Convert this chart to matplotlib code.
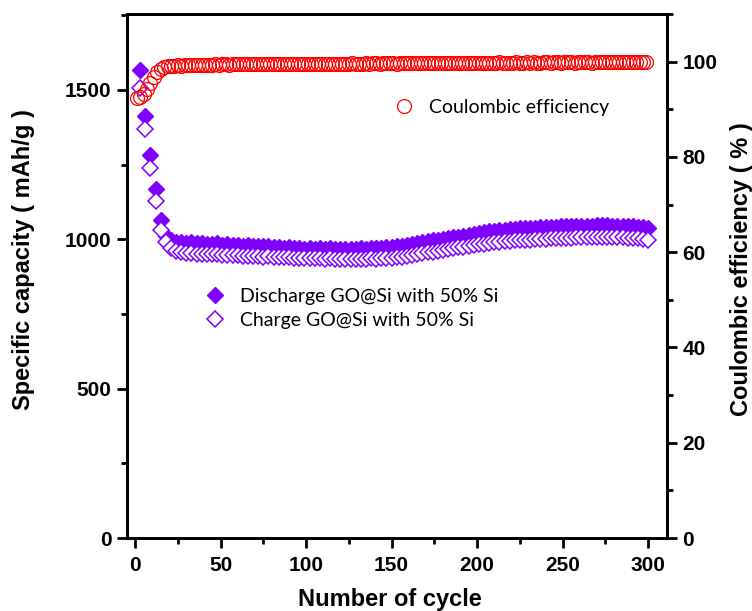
import matplotlib
matplotlib.use("Agg")
import matplotlib.pyplot as plt
from matplotlib.ticker import MultipleLocator
from matplotlib.font_manager import FontProperties

# ---------------- data ----------------
cycles_cap = list(range(3, 301, 3))
discharge = [1567, 1412, 1282, 1168, 1065, 1012, 998, 992, 990, 988,
             990, 986, 988, 985, 984, 986, 982, 983, 980, 981,
             979, 980, 977, 978, 976, 977, 974, 975, 972, 973,
             970, 971, 969, 970, 968, 970, 969, 970, 968, 969,
             968, 969, 968, 970, 969, 971, 970, 972, 973, 975,
             976, 978, 981, 984, 987, 990, 993, 996, 999, 1002,
             1004, 1007, 1009, 1012, 1014, 1017, 1020, 1023, 1026, 1028,
             1030, 1032, 1033, 1035, 1036, 1037, 1038, 1039, 1040, 1041,
             1042, 1042, 1043, 1044, 1044, 1045, 1045, 1046, 1046, 1047,
             1047, 1047, 1046, 1046, 1045, 1044, 1043, 1042, 1040, 1038]
charge = [1505, 1368, 1240, 1128, 1032, 990, 972, 962, 958, 955,
          954, 952, 951, 950, 949, 950, 948, 947, 946, 947,
          945, 944, 945, 943, 942, 943, 941, 940, 941, 939,
          938, 937, 938, 936, 937, 936, 935, 936, 935, 934,
          935, 934, 935, 934, 935, 936, 935, 936, 937, 938,
          940, 942, 944, 947, 950, 953, 956, 959, 962, 965,
          968, 970, 973, 975, 978, 980, 983, 985, 988, 990,
          992, 993, 995, 996, 997, 998, 999, 1000, 1001, 1002,
          1003, 1003, 1004, 1005, 1005, 1006, 1006, 1007, 1007, 1008,
          1008, 1008, 1007, 1007, 1006, 1005, 1004, 1003, 1001, 999]
cycles_ce = list(range(1, 300, 2))
ce = [92.3, 92.6, 93.2, 94.2, 95.5, 96.8, 97.8, 98.5, 98.9, 99.0,
      99.1, 99.1, 99.2, 99.1, 99.2, 99.2, 99.2, 99.3, 99.2, 99.3,
      99.3, 99.3, 99.3, 99.4, 99.3, 99.4, 99.4, 99.3, 99.4, 99.4,
      99.4, 99.4, 99.5, 99.4, 99.4, 99.5, 99.4, 99.5, 99.5, 99.4,
      99.5, 99.5, 99.5, 99.4, 99.5, 99.5, 99.5, 99.6, 99.5, 99.5,
      99.5, 99.6, 99.5, 99.6, 99.6, 99.5, 99.6, 99.6, 99.6, 99.5,
      99.6, 99.6, 99.6, 99.7, 99.6, 99.6, 99.6, 99.7, 99.6, 99.7,
      99.7, 99.6, 99.7, 99.7, 99.7, 99.7, 99.6, 99.7, 99.7, 99.8,
      99.8, 99.7, 99.7, 99.7, 99.8, 99.7, 99.7, 99.8, 99.7, 99.8,
      99.7, 99.7, 99.8, 99.7, 99.8, 99.7, 99.8, 99.8, 99.7, 99.8,
      99.8, 99.8, 99.7, 99.8, 99.8, 99.8, 99.9, 99.8, 99.8, 99.8,
      99.8, 99.9, 99.8, 99.8, 99.9, 99.8, 99.9, 99.8, 99.8, 99.9,
      99.9, 99.8, 99.9, 99.9, 99.8, 99.9, 99.9, 99.9, 99.8, 99.9,
      99.9, 99.9, 99.9, 99.8, 99.9, 99.9, 99.9, 99.9, 99.9, 99.9,
      99.9, 99.9, 100.0, 99.9, 99.9, 100.0, 99.9, 100.0, 100.0, 100.0]

x_ticks = [0, 50, 100, 150, 200, 250, 300]
y_ticks = [0, 500, 1000, 1500]
y2_ticks = [0, 20, 40, 60, 80, 100]

label_dis = "Discharge GO@Si with 50% Si"
label_chg = "Charge GO@Si with 50% Si"
label_ce = "Coulombic efficiency"

purple = "#7f00ff"
red = "#ff0000"

# ---------------- figure ----------------
W, H = 752, 611
fig = plt.figure(figsize=(W / 100, H / 100), dpi=100)
L, R, T, B = 127, 667, 14, 538
ax = fig.add_axes([L / W, 1 - B / H, (R - L) / W, (B - T) / H])
ax2 = ax.twinx()

tickfp = FontProperties(family="Liberation Sans", weight="bold", size=15)
labfont = dict(family="Liberation Sans", weight="bold", size=17)

ax.plot(cycles_cap, discharge, linestyle="none", marker="D", ms=8.2,
        mfc=purple, mec=purple, mew=1.0, label=label_dis, zorder=3)
ax.plot(cycles_cap, charge, linestyle="none", marker="D", ms=8.2,
        mfc="white", mec=purple, mew=1.1, label=label_chg, zorder=4)
ax2.plot(cycles_ce, ce, linestyle="none", marker="o", ms=10,
         mfc="none", mec=red, mew=0.9, label=label_ce)

ax.set_xlim(-4.7, 311)
ax.set_ylim(0, 1754)
ax2.set_ylim(0, 110)

ax.set_xticks(x_ticks)
ax.xaxis.set_minor_locator(MultipleLocator(25))
ax.set_yticks(y_ticks)
ax.yaxis.set_minor_locator(MultipleLocator(250))
ax2.set_yticks(y2_ticks)
ax2.yaxis.set_minor_locator(MultipleLocator(10))

for a in (ax, ax2):
    for s in a.spines.values():
        s.set_linewidth(2.0)
    a.tick_params(which="major", length=7, width=2.0, direction="out", pad=4)
    a.tick_params(which="minor", length=4.5, width=2.0, direction="out")
ax.tick_params(axis="x", which="both", top=False, pad=6)
ax.tick_params(axis="y", which="both", right=False)

for lab in ax.get_xticklabels() + ax.get_yticklabels() + ax2.get_yticklabels():
    lab.set_fontproperties(tickfp)

ax.set_xlabel("Number of cycle", fontdict=labfont, labelpad=9)
ax.xaxis.label.set_x(0.487)
ax.set_ylabel("Specific capacity ( mAh/g )", fontdict=labfont, labelpad=22)
ax.yaxis.label.set_y(0.532)
ax2.set_ylabel("Coulombic efficiency ( % )", fontdict=labfont, labelpad=9)
ax2.yaxis.label.set_y(0.513)

legfont = FontProperties(family="Lato", size=14)
leg1 = ax.legend(loc="upper left", bbox_to_anchor=(205 / W, 1 - 288 / H),
                 bbox_transform=fig.transFigure, frameon=False, prop=legfont,
                 borderpad=0, borderaxespad=0, handlelength=1.0,
                 handletextpad=0.8, labelspacing=0.35, numpoints=1)
leg2 = ax2.legend(loc="upper left", bbox_to_anchor=(394 / W, 1 - 99 / H),
                  bbox_transform=fig.transFigure, frameon=False, prop=legfont,
                  borderpad=0, borderaxespad=0, handlelength=1.0,
                  handletextpad=0.8, numpoints=1)

fig.savefig("out.png", dpi=100)
